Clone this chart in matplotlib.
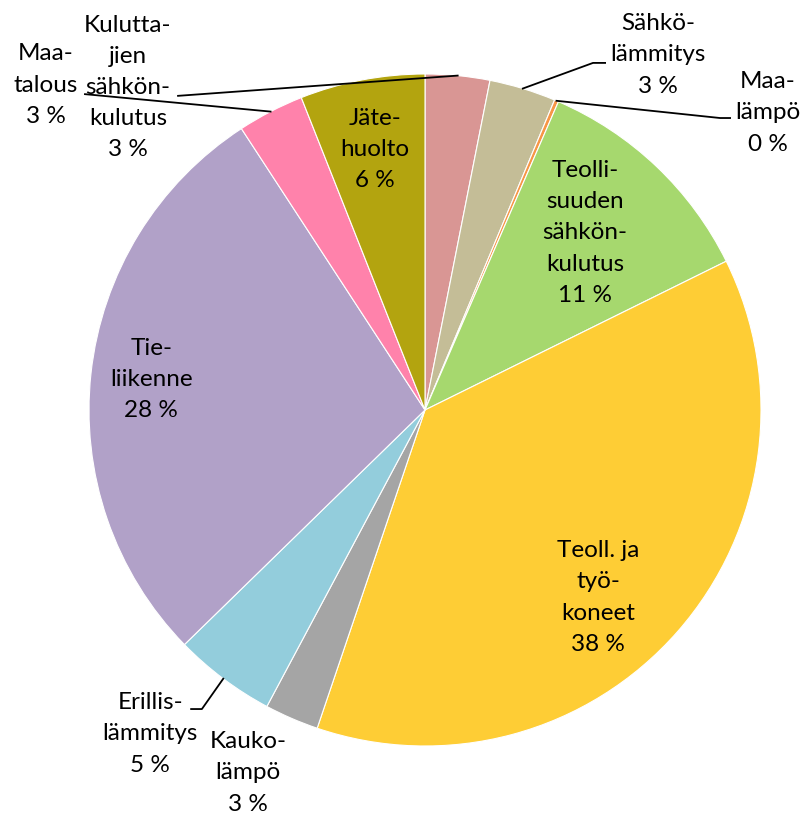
import numpy as np
import matplotlib.pyplot as plt

plt.rcParams['font.family'] = ['Lato', 'DejaVu Sans']

labels = ['Kulutta-\njien\nsähkön-\nkulutus', 'Sähkö-\nlämmitys', 'Maa-\nlämpö',
          'Teolli-\nsuuden\nsähkön-\nkulutus', 'Teoll. ja\ntyö-\nkoneet', 'Kauko-\nlämpö',
          'Erillis-\nlämmitys', 'Tie-\nliikenne', 'Maa-\ntalous', 'Jäte-\nhuolto']
shares = [3.1, 3.2, 0.2, 11.2, 37.5, 2.6, 4.9, 28.1, 3.2, 6.0]
pct_text = ['3 %', '3 %', '0 %', '11 %', '38 %', '3 %', '5 %', '28 %', '3 %', '6 %']
colors = ['#D99694', '#C4BD97', '#F79646', '#A6D86E', '#FECD35',
          '#A5A5A5', '#93CDDC', '#B1A1C8', '#FF82AB', '#B3A40F']

# inside labels: (radius, angle shift in degrees) from the wedge mid angle
inside_lab = {3: (0.71, 1.5), 4: (0.76, -6.0), 7: (0.82, 0.0), 9: (0.79, 0.0)}
# outside labels: text centre and leader path (data coords, radius 1 pie)
outside_pos = {0: (-0.884, 0.960), 1: (0.693, 1.057), 2: (1.021, 0.884),
               5: (-0.527, -1.080), 6: (-0.818, -0.964), 8: (-1.128, 0.967)}
leaders = {0: [(-0.735, 0.935)],
           1: [(0.500, 1.033), (0.536, 1.033)],
           2: [(0.878, 0.869), (0.908, 0.869)],
           6: [(-0.664, -0.890), (-0.696, -0.890)],
           8: [(-1.012, 0.940)]}

fig = plt.figure(figsize=(8.04, 8.16), dpi=100)
ax = fig.add_axes([0, 0, 1, 1])

wedges, _ = ax.pie(shares, colors=colors, startangle=90, counterclock=False,
                   wedgeprops=dict(edgecolor='white', linewidth=0.8))
ax.set_xlim(-425 / 336, 379 / 336)
ax.set_ylim(-406 / 336, 410 / 336)
ax.set_aspect('equal')
ax.axis('off')

fs = 17.5
ls = 1.6
for i, w in enumerate(wedges):
    mid = np.deg2rad((w.theta1 + w.theta2) / 2)
    txt = labels[i] + '\n' + pct_text[i]
    if i in inside_lab:
        r, shift = inside_lab[i]
        a = mid + np.deg2rad(shift)
        ax.text(r * np.cos(a), r * np.sin(a), txt, ha='center', va='center',
                fontsize=fs, linespacing=ls)
    else:
        x, y = outside_pos[i]
        ax.text(x, y, txt, ha='center', va='center', fontsize=fs, linespacing=ls)
        if i in leaders:
            pts = [(np.cos(mid), np.sin(mid))] + leaders[i]
            xs, ys = zip(*pts)
            ax.plot(xs, ys, color='black', linewidth=1.3)

fig.savefig('out.png', dpi=100)
